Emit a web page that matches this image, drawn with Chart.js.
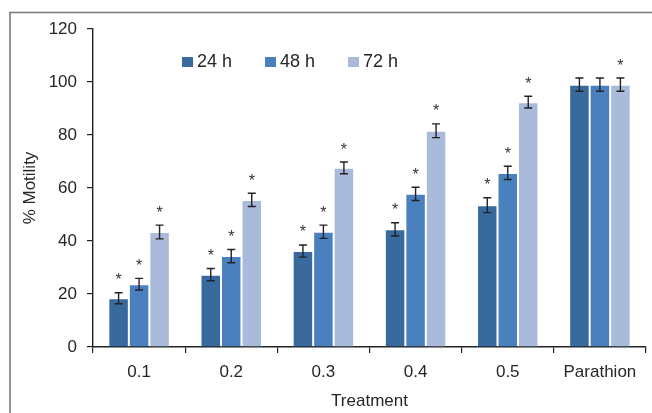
<!DOCTYPE html>
<html>
<head>
<meta charset="utf-8">
<script src="https://cdn.jsdelivr.net/npm/chart.js@4.4.1/dist/chart.umd.min.js"></script>
<style>
html,body{margin:0;padding:0;background:#fff;}
#wrap{position:relative;width:652px;height:413px;}
</style>
</head>
<body>
<div id="wrap"><canvas id="c" width="652" height="413"></canvas></div>
<script>
const categories = ['0.1', '0.2', '0.3', '0.4', '0.5', 'Parathion'];
const seriesNames = ['24 h', '48 h', '72 h'];
const values24 = [18.4, 27.3, 36.2, 44.4, 53.5, 99.0];
const values48 = [23.7, 34.3, 43.5, 57.8, 65.7, 99.0];
const values72 = [43.4, 55.5, 67.6, 81.6, 92.4, 99.0];
const errors24 = [2.1, 2.3, 2.3, 2.5, 2.8, 2.5];
const errors48 = [2.2, 2.5, 2.5, 2.5, 2.5, 2.5];
const errors72 = [2.6, 2.5, 2.2, 2.6, 2.2, 2.5];
const stars24 = [true, true, true, true, true, false];
const stars48 = [true, true, true, true, true, false];
const stars72 = [true, true, true, true, true, true];
const yTicks = [0, 20, 40, 60, 80, 100, 120];

const colors = ['#386a9d', '#4b80bf', '#aabadb'];
const errorsAll = [errors24, errors48, errors72];
const starsAll = [stars24, stars48, stars72];
const FONT = '"Liberation Sans", Arial, sans-serif';
const TXT = '#262626';
const FS = 17;

const extrasPlugin = {
  id: 'extras',
  afterDatasetsDraw(chart) {
    const ctx = chart.ctx;
    const y = chart.scales.y;
    ctx.save();
    chart.data.datasets.forEach((ds, di) => {
      const meta = chart.getDatasetMeta(di);
      meta.data.forEach((bar, i) => {
        const v = ds.data[i];
        const e = errorsAll[di][i];
        const x = bar.x;
        const yT = y.getPixelForValue(v + e);
        const yB = y.getPixelForValue(v - e);
        ctx.strokeStyle = '#222';
        ctx.lineWidth = 1.4;
        ctx.beginPath();
        ctx.moveTo(x, yT); ctx.lineTo(x, yB);
        ctx.moveTo(x - 4, yT); ctx.lineTo(x + 4, yT);
        ctx.moveTo(x - 4, yB); ctx.lineTo(x + 4, yB);
        ctx.stroke();
        if (starsAll[di][i]) {
          ctx.fillStyle = '#333';
          ctx.font = '16px ' + FONT;
          ctx.textAlign = 'center';
          ctx.textBaseline = 'alphabetic';
          ctx.fillText('*', x, yT - 7.5);
        }
      });
    });
    // legend
    const lx = [182, 265, 348];
    ctx.font = '18px ' + FONT;
    ctx.textAlign = 'left';
    ctx.textBaseline = 'middle';
    seriesNames.forEach((n, i) => {
      ctx.fillStyle = colors[i];
      ctx.fillRect(lx[i], 57, 11, 10);
      ctx.fillStyle = TXT;
      ctx.fillText(n, lx[i] + 15, 62.5);
    });
    // frame
    ctx.strokeStyle = '#7a7a7a';
    ctx.lineWidth = 1.6;
    ctx.beginPath();
    ctx.moveTo(10, 413); ctx.lineTo(10, 12.5); ctx.lineTo(652, 12.5);
    ctx.stroke();
    ctx.restore();
  }
};

const mk = (label, data, color) => ({
  label, data, backgroundColor: color,
  borderColor: 'rgba(255,255,255,0.45)', borderWidth: 1, borderSkipped: 'bottom',
  categoryPercentage: 0.667, barPercentage: 1.0
});

new Chart(document.getElementById('c'), {
  type: 'bar',
  data: {
    labels: categories,
    datasets: [
      mk(seriesNames[0], values24, colors[0]),
      mk(seriesNames[1], values48, colors[1]),
      mk(seriesNames[2], values72, colors[2])
    ]
  },
  options: {
    responsive: false,
    animation: false,
    devicePixelRatio: 1,
    layout: { padding: { top: 29, right: 6, left: 0, bottom: 0 } },
    plugins: { legend: { display: false }, tooltip: { enabled: false } },
    scales: {
      x: {
        grid: { drawOnChartArea: false, drawTicks: true, tickLength: 6, color: '#222', lineWidth: 1.2, offset: true },
        border: { display: true, color: '#222', width: 1.4 },
        ticks: { color: TXT, font: { family: FONT, size: FS }, padding: 9 },
        title: { display: true, text: 'Treatment', color: TXT, font: { family: FONT, size: FS }, padding: { top: 0, bottom: 1 } },
        afterFit(s) { s.height = 66; }
      },
      y: {
        min: 0, max: 120,
        afterBuildTicks(s) { s.ticks = yTicks.map(v => ({ value: v })); },
        grid: { drawOnChartArea: false, drawTicks: true, tickLength: 6, color: '#222', lineWidth: 1.2 },
        border: { display: true, color: '#222', width: 1.4 },
        ticks: { color: TXT, font: { family: FONT, size: FS }, padding: 10 },
        title: { display: true, text: '% Motility', color: TXT, font: { family: FONT, size: FS }, padding: { top: 20, bottom: 0 } },
        afterFit(s) { s.width = 93; }
      }
    }
  },
  plugins: [extrasPlugin]
});
</script>
</body>
</html>
